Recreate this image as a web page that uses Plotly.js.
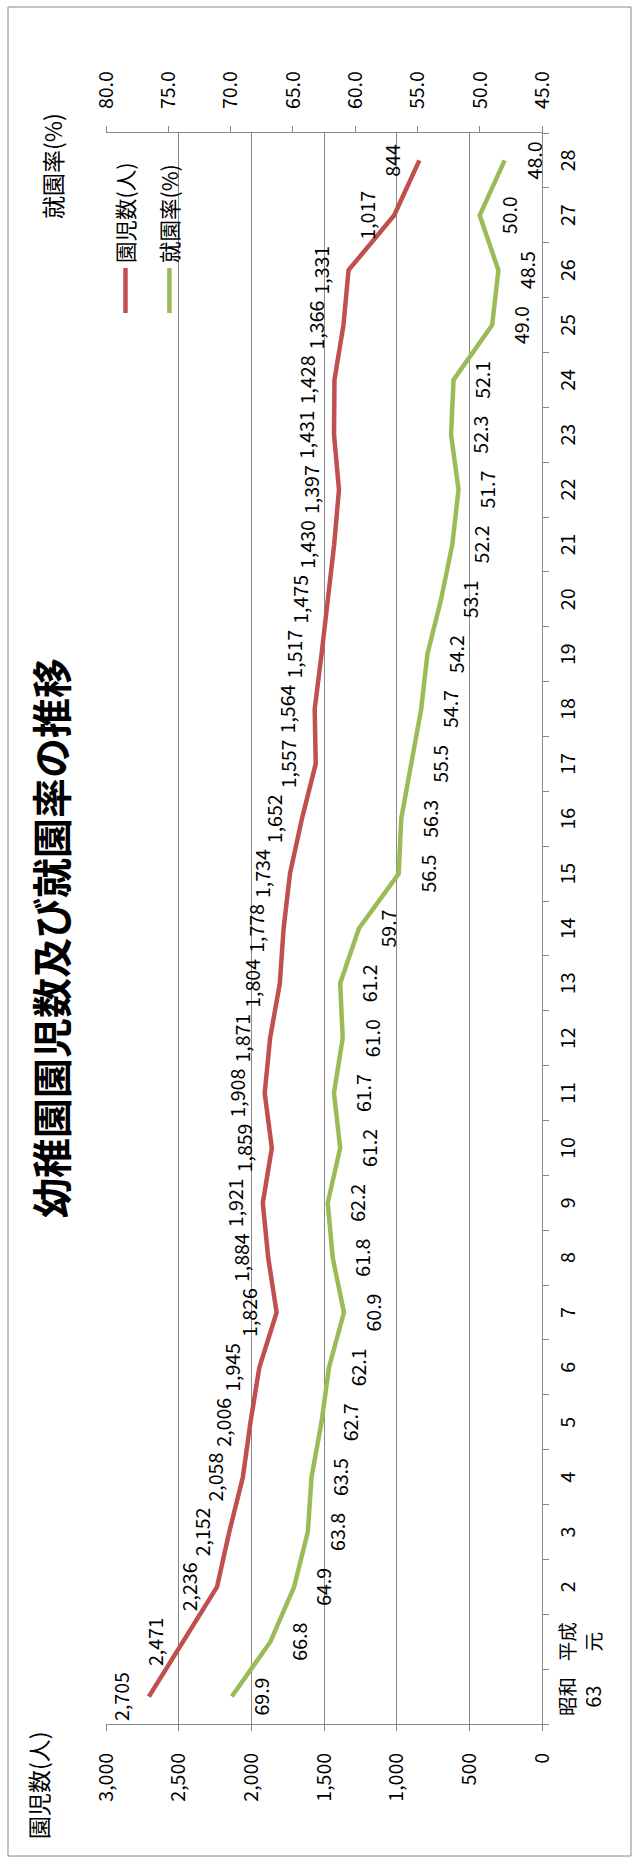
<!DOCTYPE html>
<html>
<head>
<meta charset="utf-8">
<script src="https://cdn.plot.ly/plotly-3.0.1.min.js"></script>
<style>
html, body { margin: 0; padding: 0; overflow: hidden; background: #fff; width: 635px; height: 1866px; }
#chart { position: absolute; left: 0; top: 0; width: 1866px; height: 635px;
  transform-origin: 0 0; transform: translateY(1866px) rotate(-90deg); }
</style>
</head>
<body>
<div id="chart"></div>
<script>
// ---- data ----
const categories = ['昭和63','平成元','2','3','4','5','6','7','8','9','10','11','12','13','14','15','16','17','18','19','20','21','22','23','24','25','26','27','28'];
const tickLabels = ['昭和<br>63','平成<br>元','2','3','4','5','6','7','8','9','10','11','12','13','14','15','16','17','18','19','20','21','22','23','24','25','26','27','28'];
const enrollment = [2705,2471,2236,2152,2058,2006,1945,1826,1884,1921,1859,1908,1871,1804,1778,1734,1652,1557,1564,1517,1475,1430,1397,1431,1428,1366,1331,1017,844];
const rate = [69.9,66.8,64.9,63.8,63.5,62.7,62.1,60.9,61.8,62.2,61.2,61.7,61.0,61.2,59.7,56.5,56.3,55.5,54.7,54.2,53.1,52.2,51.7,52.3,52.1,49.0,48.5,50.0,48.0];
const seriesNames = ['園児数(人)', '就園率(%)'];
const titleText = '幼稚園園児数及び就園率の推移';

// ---- layout geometry (unrotated, landscape) ----
const W = 1866, H = 635;
const M = { l: 142, r: 133, t: 106, b: 93 };
const PW = W - M.l - M.r, PH = H - M.t - M.b;
const px = X => (X - M.l) / PW;
const py = Y => 1 - (Y - M.t) / PH;

const FONT = "'Noto Sans CJK JP', 'DejaVu Sans', sans-serif";
const RED = '#C0504D', GREEN = '#9BBB59', GRAY = '#888888';
const NUM = 19.5;

const traces = [
  { x: categories, y: enrollment, name: seriesNames[0], type: 'scatter', mode: 'lines',
    line: { color: RED, width: 4.5 }, legendgroup: 'a', yaxis: 'y' },
  { x: categories, y: rate, name: seriesNames[1], type: 'scatter', mode: 'lines',
    line: { color: GREEN, width: 4.5 }, legendgroup: 'b', yaxis: 'y2' },
  { x: categories, y: enrollment, type: 'scatter', mode: 'markers+text', showlegend: false,
    marker: { size: 22, opacity: 0, color: RED }, texttemplate: '%{y:,}', textposition: 'top center',
    textfont: { family: FONT, size: NUM, color: '#000' }, cliponaxis: false, yaxis: 'y', hoverinfo: 'skip' },
  { x: categories, y: rate, type: 'scatter', mode: 'markers+text', showlegend: false,
    marker: { size: 34, opacity: 0, color: GREEN }, texttemplate: '%{y:.1f}', textposition: 'bottom center',
    textfont: { family: FONT, size: NUM, color: '#000' }, cliponaxis: false, yaxis: 'y2', hoverinfo: 'skip' }
];

const layout = {
  width: W, height: H, margin: M,
  paper_bgcolor: '#fff', plot_bgcolor: 'rgba(0,0,0,0)',
  font: { family: FONT, size: NUM, color: '#000' },
  title: { text: titleText, font: { family: FONT, size: 40, weight: 700, color: '#000' },
    xref: 'container', yref: 'container', x: 928 / W, y: 1 - 53 / H, xanchor: 'center', yanchor: 'middle' },
  showlegend: true,
  legend: { x: px(1548), y: py(105), xanchor: 'left', yanchor: 'top', bgcolor: 'rgba(0,0,0,0)',
    font: { family: FONT, size: 21.5, color: '#000' }, traceorder: 'grouped', tracegroupgap: 13, itemwidth: 45 },
  xaxis: { type: 'category', range: [-0.5, categories.length - 0.5], tickvals: categories, ticktext: tickLabels,
    tickson: 'boundaries', ticks: 'outside', ticklen: 6, tickcolor: GRAY, showline: true, linecolor: GRAY,
    linewidth: 1, showgrid: false, zeroline: false, tickfont: { family: FONT, size: NUM, color: '#000' },
    ticklabelstandoff: 9, fixedrange: true },
  yaxis: { range: [0, 3000], dtick: 500, tickformat: ',', showgrid: true, gridcolor: GRAY, gridwidth: 1,
    showline: true, linecolor: GRAY, ticks: 'outside', ticklen: 6, tickcolor: GRAY, zeroline: false,
    tickfont: { family: FONT, size: NUM, color: '#000' }, ticklabelstandoff: 18, fixedrange: true },
  yaxis2: { range: [45, 80], dtick: 5, tickformat: '.1f', overlaying: 'y', side: 'right', showgrid: false,
    showline: true, linecolor: GRAY, ticks: 'outside', ticklen: 6, tickcolor: GRAY, zeroline: false,
    tickfont: { family: FONT, size: NUM, color: '#000' }, ticklabelstandoff: 13, fixedrange: true },
  annotations: [
    { text: '園児数(人)', xref: 'paper', yref: 'paper', x: px(81), y: py(38), xanchor: 'center', yanchor: 'middle',
      showarrow: false, font: { family: FONT, size: 23, color: '#000' } },
    { text: '就園率(%)', xref: 'paper', yref: 'paper', x: px(1700), y: py(52), xanchor: 'center', yanchor: 'middle',
      showarrow: false, font: { family: FONT, size: 23, color: '#000' } }
  ],
  shapes: [
    { type: 'rect', xref: 'paper', yref: 'paper', x0: px(10), x1: px(1859), y0: py(631), y1: py(8),
      line: { color: GRAY, width: 1 }, fillcolor: 'rgba(0,0,0,0)', layer: 'below' }
  ]
};

Plotly.newPlot('chart', traces, layout, { displayModeBar: false, staticPlot: true });
</script>
</body>
</html>
